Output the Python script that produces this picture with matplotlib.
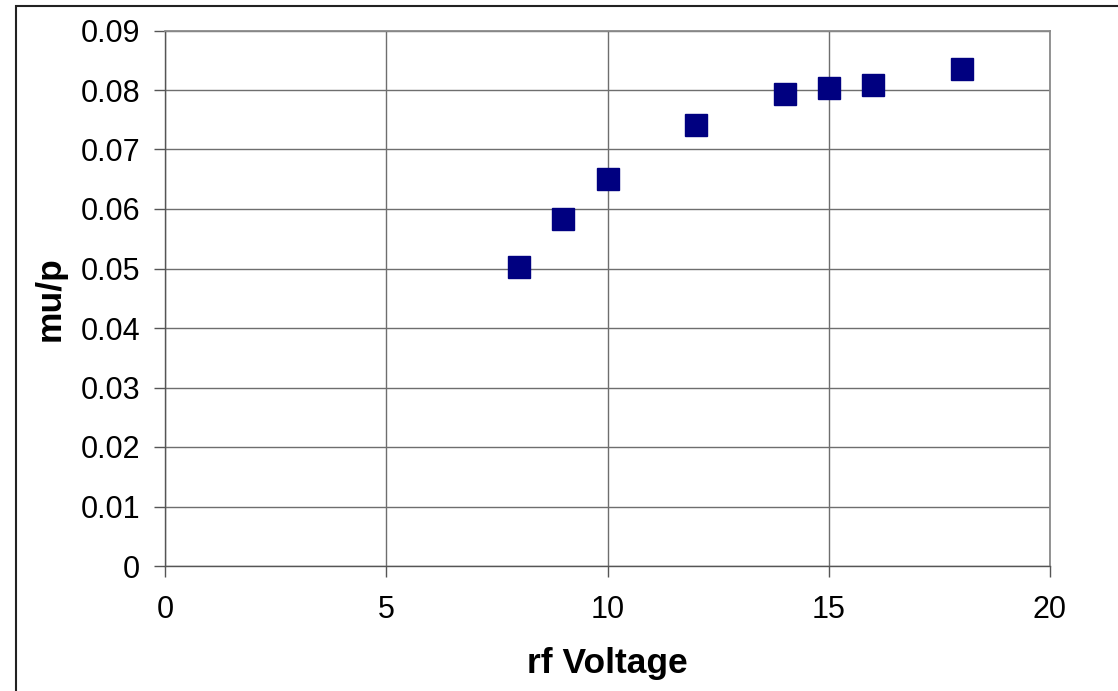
import matplotlib.pyplot as plt
from matplotlib.patches import Rectangle

plt.rcParams["font.family"] = ["Liberation Sans", "DejaVu Sans"]

rf_voltage = [8, 9, 10, 12, 14, 15, 16, 18]
mu_p = [0.0502, 0.0584, 0.0650, 0.0741, 0.0794, 0.0804, 0.0809, 0.0836]

x_ticks = [0, 5, 10, 15, 20]
y_ticks = [0, 0.01, 0.02, 0.03, 0.04, 0.05, 0.06, 0.07, 0.08, 0.09]
y_labels = ["0", "0.01", "0.02", "0.03", "0.04", "0.05", "0.06", "0.07", "0.08", "0.09"]

W, H = 1118, 691
fig = plt.figure(figsize=(W / 100, H / 100), dpi=100)
ax = fig.add_axes([165 / W, 1 - 566 / H, (1050 - 165) / W, (566 - 30.5) / H])

ax.plot(rf_voltage, mu_p, linestyle="none", marker="s", markersize=15.5,
        color="#000080", zorder=3)

ax.set_xlim(0, 20)
ax.set_ylim(0, 0.09)
ax.set_xticks(x_ticks)
ax.set_yticks(y_ticks)
ax.set_yticklabels(y_labels)
ax.grid(True, color="#6e6e6e", linewidth=1.0)
ax.set_axisbelow(True)

for side in ["top", "right"]:
    ax.spines[side].set_color("#8a8a8a")
    ax.spines[side].set_linewidth(1.3)
for side in ["left", "bottom"]:
    ax.spines[side].set_color("#555555")
    ax.spines[side].set_linewidth(1.0)

ax.tick_params(direction="out", length=8, width=1, color="#555555",
               labelsize=22)
ax.tick_params(axis="y", pad=10)
ax.tick_params(axis="x", pad=13)

ax.set_xlabel("rf Voltage", fontsize=25.5, fontweight="bold", labelpad=16)
ax.set_ylabel("mu/p", fontsize=25.5, fontweight="bold", labelpad=10)

# outer chart frame, clipped at right and bottom
fig.patches.append(Rectangle((16 / W, -0.1), 1.2, 1 - 6 / H + 0.1,
                             transform=fig.transFigure, fill=False,
                             edgecolor="#222222", linewidth=1.5))

fig.savefig("out.png", dpi=100)
